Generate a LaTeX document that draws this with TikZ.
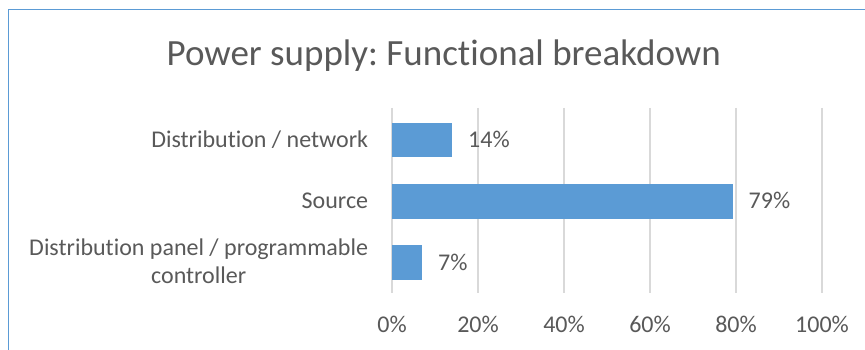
\documentclass[tikz,border=0pt]{standalone}
\usepackage{fontspec}
\setmainfont{Carlito}[Ligatures={NoCommon,NoRequired,NoContextual}]
\frenchspacing
\definecolor{txt}{HTML}{595959}
\definecolor{barc}{HTML}{5B9BD5}
\definecolor{gridc}{HTML}{D9D9D9}
\definecolor{framec}{HTML}{5B9BD5}
\begin{document}
\begin{tikzpicture}[x=1pt,y=-1pt,
  lbl/.style={inner sep=0pt,text=txt,font=\fontsize{24}{28}\selectfont},
  ttl/.style={inner sep=0pt,text=txt,font=\fontsize{37}{44}\selectfont},
  barbox/.style={fill=barc,draw=none},
  gridln/.style={draw=gridc,line width=1.3pt}]
\useasboundingbox (0,0) rectangle (865,350);
\fill[white] (0,0) rectangle (865,350);
\clip (0,0) rectangle (865,350);
\draw[framec,line width=1.2pt] (8.5,9.5) rectangle (880,370);
\node[ttl,anchor=base] (title) at (443.8,66) {Power supply: Functional breakdown};
% gridlines
\foreach \i/\p in {0/0,1/20,2/40,3/60,4/80,5/100}{
  \draw[gridln] (392+86*\i,108) -- (392+86*\i,293);
  \node[lbl,anchor=base] (t\i) at (392+86*\i,332.3) {\p\%};
}
% bars
\fill[barc] (392,122.7) rectangle (452.2,157.3);
\fill[barc] (392,184) rectangle (732.5,218.7);
\fill[barc] (392,245.3) rectangle (422.1,280);
\node[lbl,anchor=base west] (v1) at (468,147.5) {14\%};
\node[lbl,anchor=base west] (v2) at (748.5,208.8) {79\%};
\node[lbl,anchor=base west] (v3) at (438,270.2) {7\%};
% category labels
\node[lbl,anchor=base east] (c1) at (368.3,147.3) {Distribution / network};
\node[lbl,anchor=base east] (c2) at (368.3,208.3) {Source};
\node[lbl,anchor=base east] (c3a) at (368.3,255.7) {Distribution panel / programmable};
\node[lbl,anchor=base] (c3b) at (c3a.center |- 0,283.3) {controller};
\end{tikzpicture}
\end{document}
